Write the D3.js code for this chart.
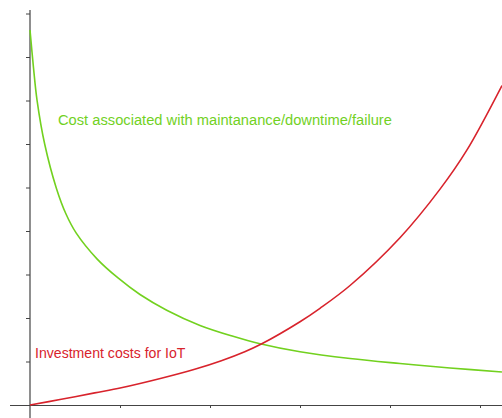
<!DOCTYPE html>
<html>
<head>
<meta charset="utf-8">
<script src="https://cdn.jsdelivr.net/npm/d3@7/dist/d3.min.js"></script>
<style>
  html, body { margin: 0; padding: 0; background: #fff; }
  svg { display: block; }
  text { font-family: "Liberation Sans", Arial, sans-serif; }
</style>
</head>
<body>
<svg id="chart" width="502" height="418"></svg>
<script>
// ---- data ----
const xTicks = [1, 2, 3, 4, 5];
const yTicks = [1, 2, 3, 4, 5, 6, 7, 8, 9];

const maintX = [0, 0.039, 0.078, 0.163, 0.292, 0.40, 0.514, 0.744, 0.978, 1.222, 1.519, 1.889, 2.256, 2.556, 3.0, 3.556, 4.111, 4.667, 5.244];
const maintY = [8.62, 7.75, 7.01, 6.00, 4.99, 4.39, 3.95, 3.36, 2.92, 2.54, 2.18, 1.83, 1.58, 1.41, 1.225, 1.069, 0.954, 0.851, 0.759];

const iotX = [0, 0.348, 0.719, 1.014, 1.459, 1.830, 2.126, 2.386, 2.570, 3.0, 3.222, 3.556, 4.111, 4.556, 4.852, 5.244];
const iotY = [0, 0.131, 0.278, 0.395, 0.614, 0.821, 1.018, 1.225, 1.402, 1.915, 2.223, 2.747, 3.846, 4.963, 5.853, 7.345];

const labels = {
  maint: "Cost associated with maintanance/downtime/failure",
  iot: "Investment costs for IoT"
};

const GREEN = "#72d11f";
const RED = "#d8232c";

// ---- layout ----
const svg = d3.select("#chart");
const x = d3.scaleLinear().domain([0, 5]).range([30, 480]);
const y = d3.scaleLinear().domain([0, 9]).range([405, 13.5]);

// axes
const axisColor = "#444";
const gx = svg.append("g").attr("transform", `translate(0,${y(0)})`)
  .call(d3.axisBottom(x).tickValues(xTicks).tickSize(3).tickSizeOuter(0).tickFormat(""));
gx.select(".domain").remove();
gx.selectAll(".tick line").attr("stroke", axisColor);

const gy = svg.append("g").attr("transform", `translate(${x(0)},0)`)
  .call(d3.axisLeft(y).tickValues(yTicks).tickSize(4).tickSizeOuter(0).tickFormat(""));
gy.select(".domain").remove();
gy.selectAll(".tick line").attr("stroke", axisColor);

svg.append("line")
  .attr("x1", x(0) - 20).attr("x2", 502)
  .attr("y1", y(0) + 0.5).attr("y2", y(0) + 0.5)
  .attr("stroke", axisColor).attr("stroke-width", 1.2);
svg.append("line")
  .attr("x1", x(0)).attr("x2", x(0))
  .attr("y1", 10).attr("y2", 418)
  .attr("stroke", axisColor).attr("stroke-width", 1.2);

// curves
const line = d3.line().x(d => x(d[0])).y(d => y(d[1])).curve(d3.curveCatmullRom.alpha(0.5));
const maint = maintX.map((v, i) => [v, maintY[i]]);
const iot = iotX.map((v, i) => [v, iotY[i]]);

svg.append("path").datum(maint).attr("d", line)
  .attr("fill", "none").attr("stroke", GREEN).attr("stroke-width", 1.6);
svg.append("path").datum(iot).attr("d", line)
  .attr("fill", "none").attr("stroke", RED).attr("stroke-width", 1.6);

// labels
svg.append("text").attr("x", 58).attr("y", 125)
  .attr("fill", GREEN).attr("font-size", 14.7).text(labels.maint);
svg.append("text").attr("x", 35).attr("y", 358)
  .attr("fill", RED).attr("font-size", 14.1).text(labels.iot);
</script>
</body>
</html>
